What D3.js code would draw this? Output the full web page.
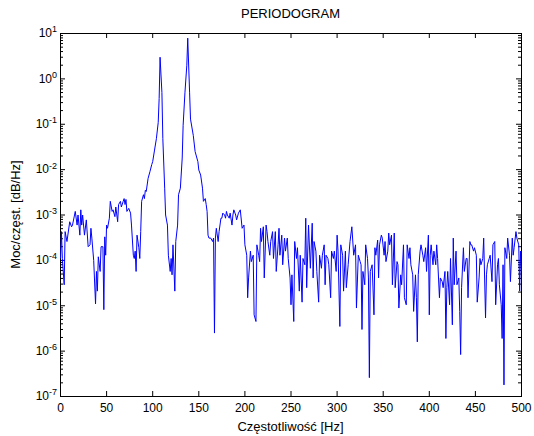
<!DOCTYPE html>
<html>
<head>
<meta charset="utf-8">
<script src="https://cdn.jsdelivr.net/npm/d3@7"></script>
<style>
  body { margin: 0; background: #fff; }
</style>
</head>
<body>
<div class="canvas"></div>
<script>
// texts
const titleText = "PERIODOGRAM";
const xLabelText = "Częstotliwość [Hz]";
const yLabelText = "Moc/częst. [dB/Hz]";

// tick values
const xTicks = [0, 50, 100, 150, 200, 250, 300, 350, 400, 450, 500];
const yDecades = [-7, -6, -5, -4, -3, -2, -1, 0, 1];

// [frequency Hz, power density]
const spectrum = [
  [0, 1.1e-4], [1, 4.3e-4], [2, 1.1e-4], [4, 2.9e-5], [5, 4.3e-4], [7, 2.6e-4], [10, 7.1e-4], [12, 5.5e-4],
  [13, 6.0e-4], [16, 1.2e-3], [18, 6.0e-4], [19, 1.0e-3], [21, 3.6e-4], [22, 1.3e-3], [23, 6.0e-4], [24, 1.0e-3],
  [26, 3.6e-4], [28, 7.8e-4], [30, 2.0e-4], [32, 2.2e-4], [33, 5.1e-4], [34, 3.1e-4], [36, 1.0e-4], [38, 1.1e-5],
  [39, 5.7e-5], [40, 2.1e-5], [41, 1.2e-4], [43, 5.7e-5], [44, 2.0e-4], [46, 2.0e-4], [47, 8.2e-6], [48, 3.3e-4],
  [49, 1.3e-4], [50, 6.0e-4], [51, 5.1e-4], [53, 8.5e-4], [54, 2.0e-3], [56, 1.2e-3], [57, 1.3e-3], [59, 9.2e-4],
  [60, 1.5e-3], [62, 7.1e-4], [63, 1.7e-3], [65, 2.0e-3], [66, 1.5e-3], [68, 2.0e-3], [69, 2.3e-3], [70, 1.7e-3],
  [71, 2.2e-3], [72, 1.2e-3], [74, 1.4e-3], [76, 1.1e-3], [77, 6.0e-4], [79, 1.3e-4], [80, 1.1e-4], [81, 1.6e-4],
  [82, 5.7e-5], [83, 3.6e-4], [85, 1.9e-4], [86, 1.1e-4], [87, 4.3e-4], [88, 2.0e-3], [90, 2.8e-3], [91, 2.3e-3],
  [92, 3.5e-3], [93, 3.3e-3], [95, 6.4e-3], [97, 9.0e-3], [99, 1.3e-2], [100, 1.5e-2], [102, 2.7e-2], [104, 4.8e-2],
  [106, 0.11], [107, 0.37], [108, 3.0], [110, 0.5], [111, 4.8e-2], [113, 3.9e-3], [114, 1.0e-3], [116, 6.0e-4],
  [117, 1.3e-4], [119, 5.7e-5], [120, 1.1e-4], [121, 4.8e-5], [122, 2.2e-4], [124, 2.1e-5], [125, 2.6e-4], [127, 6.0e-4],
  [128, 2.8e-3], [130, 3.9e-3], [132, 1.8e-2], [133, 9.5e-2], [135, 0.51], [137, 2.0], [138, 7.9], [140, 0.51],
  [141, 0.13], [144, 5.7e-2], [146, 2.5e-2], [149, 1.5e-2], [150, 9.8e-3], [152, 7.6e-3], [154, 3.9e-3], [155, 2.0e-3],
  [157, 2.3e-3], [158, 1.7e-3], [159, 1.2e-3], [160, 3.6e-4], [161, 3.1e-4], [163, 3.1e-4], [165, 2.6e-4], [166, 3.1e-4],
  [167, 2.5e-6], [168, 3.1e-4], [169, 5.1e-4], [171, 2.6e-4], [172, 4.3e-4], [174, 8.5e-4], [175, 8.5e-4], [176, 1.1e-3],
  [178, 1.0e-3], [179, 8.5e-4], [180, 1.2e-3], [181, 1.0e-3], [183, 8.5e-4], [184, 1.1e-3], [186, 6.0e-4], [187, 1.0e-3],
  [188, 1.3e-3], [190, 1.0e-3], [191, 7.8e-4], [193, 1.1e-3], [195, 1.3e-3], [197, 5.1e-4], [199, 6.0e-4], [200, 2.2e-4],
  [202, 1.3e-4], [203, 1.5e-5], [204, 4.1e-5], [206, 1.6e-4], [207, 9.4e-5], [209, 1.3e-4], [210, 6.3e-6], [212, 4.5e-6],
  [213, 2.2e-4], [215, 1.3e-4], [216, 9.4e-5], [217, 5.1e-4], [218, 2.6e-4], [220, 5.5e-4], [221, 4.1e-5], [223, 6.0e-4],
  [224, 4.3e-4], [225, 2.6e-4], [227, 1.3e-4], [228, 2.6e-4], [230, 4.3e-4], [231, 1.1e-4], [233, 4.3e-4], [234, 5.7e-5],
  [236, 2.2e-4], [237, 5.1e-4], [238, 1.3e-4], [240, 3.6e-4], [241, 8.0e-5], [243, 3.1e-4], [244, 1.6e-4], [246, 3.1e-4],
  [247, 1.1e-4], [249, 4.1e-5], [250, 1.05e-5], [251, 4.8e-5], [253, 4.5e-6], [254, 2.6e-4], [256, 1.1e-4], [257, 1.9e-4],
  [259, 2.1e-5], [260, 1.3e-4], [262, 1.2e-5], [263, 1.1e-4], [265, 8.0e-5], [266, 8.5e-4], [267, 2.5e-5], [269, 6.0e-4],
  [271, 6.7e-5], [273, 6.6e-4], [274, 4.1e-5], [275, 2.6e-4], [277, 1.6e-4], [278, 5.7e-5], [280, 1.2e-5], [281, 1.3e-4],
  [283, 6.7e-5], [284, 1.3e-4], [286, 2.2e-4], [287, 2.9e-5], [288, 1.3e-4], [290, 1.1e-4], [291, 8.0e-5], [293, 1.5e-5],
  [294, 1.6e-4], [296, 1.1e-4], [297, 1.6e-4], [299, 5.7e-5], [300, 3.6e-4], [301, 1.6e-4], [303, 3.5e-6], [304, 2.2e-4],
  [306, 1.3e-4], [307, 2.1e-5], [309, 1.6e-4], [310, 2.5e-5], [312, 8.0e-5], [314, 2.6e-4], [316, 5.5e-4], [318, 1.3e-4],
  [320, 2.2e-4], [321, 8.9e-6], [323, 1.3e-4], [325, 9.4e-5], [326, 8.0e-5], [327, 3.0e-6], [328, 5.7e-5], [330, 2.9e-5],
  [331, 2.2e-4], [333, 1.1e-4], [334, 4.1e-5], [335, 2.6e-7], [336, 5.7e-5], [338, 8.0e-5], [340, 6.3e-6], [341, 1.9e-4],
  [342, 1.3e-4], [344, 2.8e-4], [345, 4.1e-5], [346, 2.2e-4], [348, 3.6e-4], [349, 3.1e-4], [351, 1.3e-4], [352, 2.6e-4],
  [353, 9.4e-5], [355, 1.6e-4], [356, 4.0e-4], [357, 2.2e-4], [359, 3.6e-4], [360, 2.9e-5], [362, 4.0e-4], [363, 2.5e-5],
  [365, 9.4e-5], [366, 8.0e-5], [367, 8.9e-6], [369, 4.8e-5], [370, 2.9e-5], [372, 2.2e-4], [373, 1.5e-5], [375, 1.05e-5],
  [376, 2.2e-4], [378, 1.1e-4], [379, 1.9e-4], [380, 8.0e-5], [382, 4.8e-5], [383, 7.5e-6], [385, 4.8e-5], [386, 1.5e-5],
  [387, 1.6e-6], [388, 4.8e-5], [390, 1.6e-4], [391, 2.2e-4], [393, 1.3e-4], [394, 9.4e-5], [396, 1.9e-4], [397, 5.7e-5],
  [399, 3.6e-4], [400, 6.3e-6], [401, 1.3e-4], [402, 2.2e-4], [404, 8.0e-5], [405, 1.6e-4], [407, 8.0e-5], [408, 2.2e-4],
  [409, 1.1e-4], [411, 1.5e-5], [412, 4.1e-5], [414, 3.4e-5], [415, 2.5e-5], [417, 5.7e-5], [418, 1.9e-6], [419, 2.5e-5],
  [420, 5.7e-5], [422, 1.05e-5], [423, 1.1e-4], [425, 3.8e-6], [426, 3.1e-4], [427, 2.9e-5], [429, 1.6e-4], [430, 2.9e-5],
  [432, 4.1e-5], [433, 7.5e-6], [434, 8.4e-7], [435, 2.5e-5], [437, 1.9e-4], [438, 5.7e-5], [440, 1.1e-4], [441, 1.1e-4],
  [442, 1.5e-5], [444, 2.6e-4], [445, 2.2e-4], [446, 2.2e-4], [448, 1.6e-4], [449, 1.9e-4], [451, 1.3e-4], [452, 1.2e-5],
  [454, 4.1e-5], [455, 1.1e-4], [456, 8.0e-5], [458, 1.1e-4], [459, 3.1e-4], [461, 5.4e-6], [462, 4.8e-5], [463, 8.0e-5],
  [465, 1.1e-4], [466, 1.3e-4], [468, 3.4e-5], [469, 2.2e-4], [471, 2.6e-4], [472, 1.05e-5], [474, 8.0e-5], [475, 1.1e-4],
  [476, 2.9e-5], [478, 1.05e-5], [479, 1.9e-6], [480, 8.0e-5], [481, 1.8e-7], [482, 1.9e-4], [484, 1.1e-4], [485, 3.1e-4],
  [487, 1.3e-4], [488, 3.4e-5], [490, 3.1e-4], [491, 1.3e-4], [492, 1.9e-4], [494, 4.3e-4], [495, 3.1e-4], [497, 2.2e-4],
  [498, 2.1e-5], [499, 1.6e-4], [500, 5.7e-5]
];

const font = "'Liberation Sans', Arial, Helvetica, sans-serif";

// leaves room for labels round the box
const margin = { top: 33, right: 12, bottom: 39, left: 60 };
const graphWidth = 534 - margin.left - margin.right - 1;
const graphHeight = 436 - margin.top - margin.bottom - 1;

const svg = d3
  .select(".canvas")
  .append("svg")
  .attr("width", 534)
  .attr("height", 436)
  .style("display", "block");

svg.append("rect").attr("width", 534).attr("height", 436).attr("fill", "#fff");

const graph = svg
  .append("g")
  .attr("transform", `translate(${margin.left}, ${margin.top})`);

// scales
const x = d3.scaleLinear().domain([0, 500]).range([0, graphWidth]);
const y = d3
  .scaleLog()
  .domain([Math.pow(10, yDecades[0]), Math.pow(10, yDecades[yDecades.length - 1])])
  .range([graphHeight, 0]);

const majorY = yDecades.map(e => Math.pow(10, e));
const minorY = [];
yDecades.slice(0, -1).forEach(e => {
  for (let m = 2; m <= 9; m++) minorY.push(m * Math.pow(10, e));
});

// axes, ticks point inwards
const xAxisGroup = graph.append("g").attr("transform", `translate(0, ${graphHeight})`);
xAxisGroup.call(d3.axisBottom(x).tickValues(xTicks).tickSize(-5).tickPadding(7));

const xTopGroup = graph.append("g");
xTopGroup.call(d3.axisTop(x).tickValues(xTicks).tickSize(-5).tickFormat(""));

const yAxisGroup = graph.append("g");
yAxisGroup.call(d3.axisLeft(y).tickValues(majorY).tickSize(-5).tickPadding(3).tickFormat(""));
graph.append("g").call(d3.axisLeft(y).tickValues(minorY).tickSize(-3).tickFormat(""));

const yRightGroup = graph.append("g").attr("transform", `translate(${graphWidth}, 0)`);
yRightGroup.call(d3.axisRight(y).tickValues(majorY).tickSize(-5).tickFormat(""));
yRightGroup.append("g").call(d3.axisRight(y).tickValues(minorY).tickSize(-3).tickFormat(""));

graph.selectAll(".domain").remove();
graph.selectAll(".tick line").attr("stroke", "#000");

xAxisGroup
  .selectAll("text")
  .attr("fill", "#000")
  .style("font-family", font)
  .style("font-size", "12px");

// powers of ten with raised exponent
yAxisGroup.selectAll(".tick text").each(function(d) {
  const t = d3.select(this)
    .text(null)
    .attr("fill", "#000")
    .style("font-family", font)
    .style("font-size", "12px");
  t.append("tspan").text("10");
  t.append("tspan")
    .attr("dy", "-0.55em")
    .style("font-size", "9px")
    .text(Math.round(Math.log10(d)));
});

// box
graph
  .append("rect")
  .attr("x", 0.5)
  .attr("y", 0.5)
  .attr("width", graphWidth)
  .attr("height", graphHeight)
  .attr("fill", "none")
  .attr("stroke", "#000")
  .attr("stroke-width", 1);

// periodogram line
const line = d3
  .line()
  .x(d => x(d[0]) + 0.5)
  .y(d => y(d[1]) + 0.5);

graph
  .append("path")
  .datum(spectrum)
  .attr("fill", "none")
  .attr("stroke", "#0000ff")
  .attr("stroke-width", 1)
  .attr("d", line);

// title and labels
svg
  .append("text")
  .attr("x", margin.left + graphWidth / 2)
  .attr("y", 18)
  .attr("text-anchor", "middle")
  .style("font-family", font)
  .style("font-size", "13px")
  .text(titleText);

svg
  .append("text")
  .attr("x", margin.left + graphWidth / 2)
  .attr("y", 431)
  .attr("text-anchor", "middle")
  .style("font-family", font)
  .style("font-size", "13px")
  .text(xLabelText);

svg
  .append("text")
  .attr("transform", `translate(20, ${margin.top + graphHeight / 2}) rotate(-90)`)
  .attr("text-anchor", "middle")
  .style("font-family", font)
  .style("font-size", "13px")
  .text(yLabelText);
</script>
</body>
</html>
